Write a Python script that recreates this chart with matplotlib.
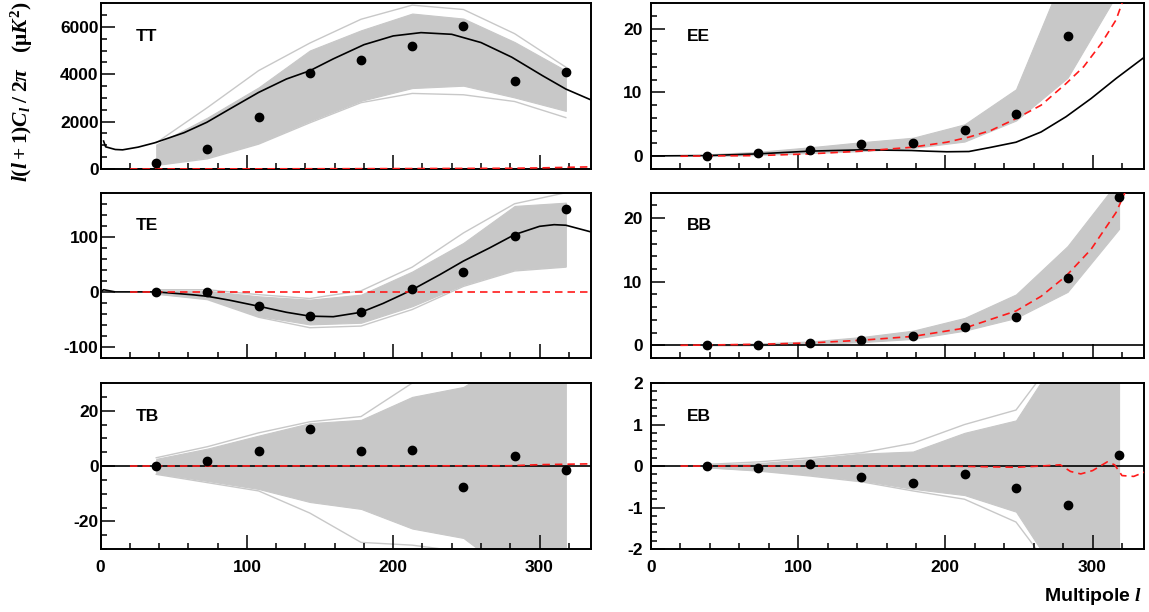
import matplotlib.pyplot as plt
from matplotlib.ticker import MultipleLocator


plt.rcParams.update(
    {
        "font.family": ["Liberation Sans", "DejaVu Sans"],
        "font.weight": "bold",
        "axes.unicode_minus": False,
        "mathtext.fontset": "custom",
        "mathtext.rm": "Liberation Serif:bold",
        "mathtext.it": "Liberation Serif:bold:italic",
        "mathtext.bf": "Liberation Serif:bold",
        "mathtext.default": "it",
    }
)

GRAY = "#c8c8c8"
RED = "#ff1a1a"

# bin centres of the measured band powers
ELL = [38, 73, 108, 143, 178, 213, 248, 283, 318]

# --- TT ---
TT_DATA = [255, 851, 2199, 4043, 4582, 5191, 6043, 3702, 4085]
TT_LO = [184, 496, 1106, 2028, 2879, 3418, 3517, 3020, 2453]
TT_HI = [1035, 2170, 3446, 5006, 5857, 6565, 6353, 5361, 4155]
TT_MIN = [150, 430, 1050, 1950, 2800, 3191, 3134, 2850, 2170]
TT_MAX = [1106, 2595, 4155, 5318, 6324, 6920, 6736, 5715, 4300]
TT_TH_L = [2, 3.4, 10, 15, 25.6, 37, 57, 72.6, 88, 108, 127, 143, 159, 180, 200, 219, 240, 260, 281, 302, 318, 335]
TT_TH = [1180, 936, 823, 808, 922, 1106, 1532, 1972, 2525, 3234, 3800, 4150, 4650, 5250, 5620, 5759, 5688, 5340, 4723, 3943, 3376, 2922]
TT_RED_L = [20, 100, 200, 280, 300, 335]
TT_RED = [0, 5, 15, 30, 45, 90]

# --- TE ---
TE_DATA = [0, -1, -26, -43.6, -35.8, 6, 35.8, 101, 151]
TE_LO = [-3, -12, -44, -59, -56, -26, 13, 40.6, 47]
TE_HI = [3, 2, -8, -14, -5, 37, 89, 156, 162]
TE_MIN = [-4, -14, -46, -65, -62, -32, 10, 38, 45]
TE_MAX = [4, 4, -5, -12, 2, 45, 107, 160, 180]
TE_TH_L = [0, 2, 10, 38, 62, 73, 88, 108, 127, 143, 159, 178, 193, 206, 213, 232, 248, 266, 283, 300, 310, 318, 335]
TE_TH = [0, 4, 0, 0, -5, -8, -15, -26, -37, -44, -45, -37, -21, -5, 4, 31.5, 56, 80, 104, 119, 122, 121, 109]
TE_RED_L = [20, 335]
TE_RED = [0, 0]

# --- TB ---
TB_DATA = [0, 2.0, 5.4, 13.5, 5.5, 5.7, -7.5, 3.6, -1.5]
TB_LO = [-2.6, -5.4, -8.3, -13, -15.5, -22.6, -26, -40, -40]
TB_HI = [2.6, 6.3, 11, 15.5, 16.7, 25, 28.6, 40, 40]
TB_MIN = [-3, -6, -9, -17, -27.6, -28.6, -31, -40, -40]
TB_MAX = [3, 7, 12, 16, 17.9, 30, 31, 40, 40]
TB_TH_L = [0, 335]
TB_TH = [0, 0]
TB_RED_L = [20, 280, 300, 335]
TB_RED = [0, 0.1, 0.5, 0.8]

# --- EE ---
EE_DATA = [0.1, 0.5, 0.95, 1.95, 2.1, 4.05, 6.7, 18.9, 30]
EE_LO = [0, 0.2, 0.5, 0.8, 1.3, 2.3, 5.6, 12.3, 26]
EE_HI = [0.3, 0.7, 1.4, 2.2, 2.9, 5.0, 10.5, 30, 40]
EE_TH_L = [0, 38, 72.5, 108, 143, 177, 187, 201, 216, 231, 248, 265, 282, 299, 316, 335]
EE_TH = [0.05, 0.1, 0.37, 0.8, 1.0, 0.9, 0.8, 0.7, 0.74, 1.4, 2.2, 3.8, 6.2, 9.05, 12.2, 15.5]
EE_RED_L = [20, 38, 72.5, 108, 143, 177, 201, 216, 231, 248, 265, 282, 294, 306, 316, 320, 324]
EE_RED = [0, 0.05, 0.1, 0.37, 0.8, 1.4, 2.2, 3.0, 4.05, 5.9, 8.0, 11.4, 14.05, 17.7, 21.4, 24, 26]

# --- BB ---
BB_DATA = [0, 0.1, 0.37, 0.84, 1.47, 2.95, 4.4, 10.6, 23.3]
BB_LO = [0, 0, 0.2, 0.5, 1.0, 2.3, 4.3, 8.4, 18.3]
BB_HI = [0.1, 0.3, 0.6, 1.3, 2.3, 4.3, 8.0, 15.6, 26]
BB_TH_L = [0, 335]
BB_TH = [0, 0]
BB_RED_L = [20, 38, 73, 108, 143, 178, 213, 248, 265, 282, 299, 316, 322, 326]
BB_RED = [0, 0.05, 0.16, 0.37, 0.8, 1.4, 2.7, 5.4, 7.7, 10.9, 15.1, 20.9, 24, 26]

# --- EB ---
EB_DATA = [0, -0.05, 0.06, -0.26, -0.4, -0.2, -0.54, -0.94, 0.26]
EB_LO = [-0.03, -0.1, -0.21, -0.35, -0.55, -0.7, -1.1, -3, -3]
EB_HI = [0.03, 0.07, 0.17, 0.3, 0.35, 0.8, 1.1, 3, 3]
EB_MIN = [-0.04, -0.12, -0.24, -0.38, -0.6, -0.8, -1.35, -3, -3]
EB_MAX = [0.04, 0.1, 0.2, 0.32, 0.55, 1.0, 1.35, 3, 3]
EB_TH_L = [0, 335]
EB_TH = [0, 0]
EB_RED_L = [20, 200, 248, 265, 278, 285, 292, 300, 310, 315, 320, 328, 335]
EB_RED = [0, 0, -0.03, 0, 0.03, -0.13, -0.19, -0.11, 0.1, 0.03, -0.23, -0.25, -0.15]

LEFT = (0.0876, 0.4265)
RIGHT = (0.5666, 0.4291)
ROWS = [(0.7239, 0.2708), (0.4150, 0.2701), (0.1029, 0.2712)]

PANELS = [
    # name, data, lo, hi, min, max, theory, red, ylim, major, minor, column, row
    ("TT", TT_DATA, TT_LO, TT_HI, TT_MIN, TT_MAX, (TT_TH_L, TT_TH), (TT_RED_L, TT_RED),
     (0, 7000), 2000, 500, LEFT, ROWS[0]),
    ("TE", TE_DATA, TE_LO, TE_HI, TE_MIN, TE_MAX, (TE_TH_L, TE_TH), (TE_RED_L, TE_RED),
     (-120, 180), 100, 20, LEFT, ROWS[1]),
    ("TB", TB_DATA, TB_LO, TB_HI, TB_MIN, TB_MAX, (TB_TH_L, TB_TH), (TB_RED_L, TB_RED),
     (-30, 30), 20, 5, LEFT, ROWS[2]),
    ("EE", EE_DATA, EE_LO, EE_HI, None, None, (EE_TH_L, EE_TH), (EE_RED_L, EE_RED),
     (-2, 24), 10, 2, RIGHT, ROWS[0]),
    ("BB", BB_DATA, BB_LO, BB_HI, None, None, (BB_TH_L, BB_TH), (BB_RED_L, BB_RED),
     (-2, 24), 10, 2, RIGHT, ROWS[1]),
    ("EB", EB_DATA, EB_LO, EB_HI, EB_MIN, EB_MAX, (EB_TH_L, EB_TH), (EB_RED_L, EB_RED),
     (-2, 2), 1, 0.2, RIGHT, ROWS[2]),
]

fig = plt.figure(figsize=(11.49, 6.12), dpi=100, facecolor="white")

for name, data, lo, hi, vmin, vmax, theory, red, ylim, major, minor, col, row in PANELS:
    ax = fig.add_axes((col[0], row[0], col[1], row[1]))
    ax.fill_between(ELL, lo, hi, color=GRAY, linewidth=0.8, edgecolor=GRAY, zorder=1)
    if vmin is not None:
        ax.plot(ELL, vmin, color=GRAY, linewidth=1.0, zorder=1)
        ax.plot(ELL, vmax, color=GRAY, linewidth=1.0, zorder=1)
    ax.plot(theory[0], theory[1], color="black", linewidth=1.2, zorder=3)
    ax.plot(red[0], red[1], color=RED, linewidth=1.2, dashes=(4.5, 3), zorder=4)
    ax.plot(ELL, data, "o", color="black", markersize=6, zorder=5)
    ax.text(0.072, 0.80, name, transform=ax.transAxes, fontsize=12.5, fontweight="bold", va="center")

    ax.set_xlim(0, 335)
    ax.set_ylim(*ylim)
    ax.xaxis.set_major_locator(MultipleLocator(100))
    ax.xaxis.set_minor_locator(MultipleLocator(20))
    ax.yaxis.set_major_locator(MultipleLocator(major))
    ax.yaxis.set_minor_locator(MultipleLocator(minor))
    ax.tick_params(which="both", direction="in", top=False, right=False, width=1.1, labelsize=12.5)
    ax.tick_params(which="major", length=10)
    ax.tick_params(which="minor", length=4.5)
    ax.tick_params(axis="x", pad=8)
    ax.tick_params(axis="y", pad=1.5 if col is LEFT else 6)
    for spine in ax.spines.values():
        spine.set_linewidth(1.4)
    if name not in ("TB", "EB"):
        ax.tick_params(axis="x", labelbottom=False)

fig.text(0.019, 0.850, r"$l(l+1)C_l\;/\;2\pi\quad(\mathrm{\mu}K^2)$",
         rotation=90, ha="center", va="center", fontsize=15.5)
fig.text(0.994, 0.025, r"Multipole $l$", ha="right", va="center", fontsize=14, fontweight="bold")

fig.savefig("out.png", dpi=100, facecolor="white")
